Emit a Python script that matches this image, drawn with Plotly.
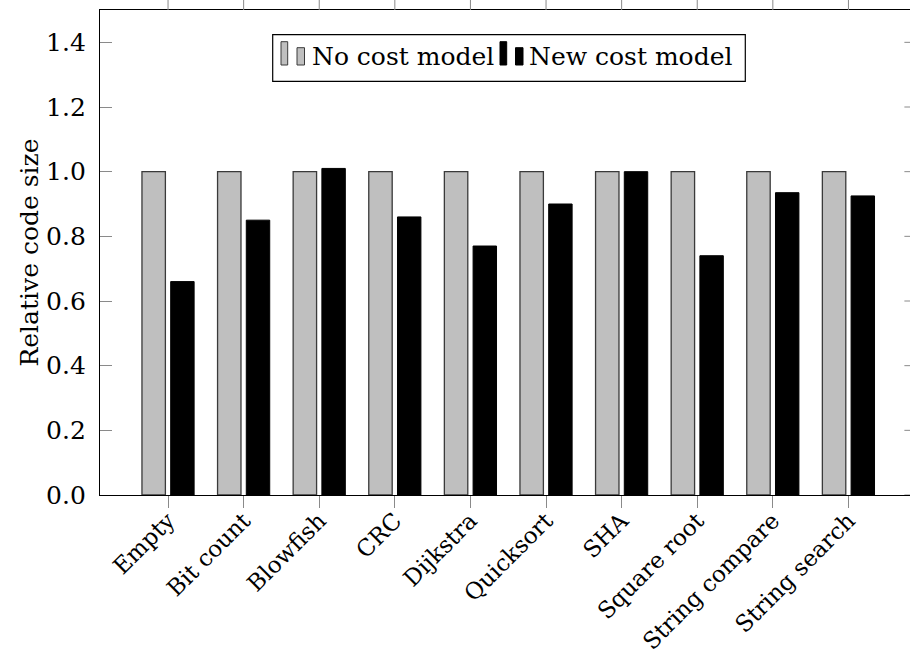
import plotly.graph_objects as go

# Benchmarks and relative code sizes
categories = ["Empty", "Bit count", "Blowfish", "CRC", "Dijkstra", "Quicksort",
              "SHA", "Square root", "String compare", "String search"]
no_cost_model = [1.0, 1.0, 1.0, 1.0, 1.0, 1.0, 1.0, 1.0, 1.0, 1.0]
new_cost_model = [0.66, 0.85, 1.01, 0.86, 0.77, 0.90, 1.00, 0.74, 0.935, 0.925]
y_ticks = [0.0, 0.2, 0.4, 0.6, 0.8, 1.0, 1.2, 1.4]
series_names = ["No cost model", "New cost model"]

FONT = "'DejaVu Serif', serif"
FS = 25
W, H = 910, 659
ML, MR, MT, MB = 100, 0, 10, 164
PW, PH = W - ML - MR, H - MT - MB

GRAY = "#bfbfbf"
EDGE = "#3a3a3a"
TICK = "#8a8a8a"

xs = list(range(len(categories)))

fig = go.Figure()
fig.add_trace(go.Bar(
    x=xs, y=no_cost_model, name=series_names[0],
    width=0.31, offset=-0.345,
    marker=dict(color=GRAY, line=dict(color=EDGE, width=1.3)),
    showlegend=False,
))
fig.add_trace(go.Bar(
    x=xs, y=new_cost_model, name=series_names[1],
    width=0.31, offset=0.035,
    marker=dict(color="#000000", line=dict(color="#000000", width=1.0)),
    showlegend=False,
))


def px_x(p):
    return (p - ML) / PW


def px_y(p):
    return (H - MB - p) / PH


shapes = []
# x ticks on top edge, pointing outward
for i in xs:
    shapes.append(dict(type="line", xref="x", yref="paper", x0=i, x1=i,
                       y0=1, y1=1 + 12 / PH, line=dict(color=TICK, width=1)))
# y ticks on the right edge, pointing inward
for v in y_ticks:
    shapes.append(dict(type="line", xref="x", yref="y", x0=9.74, x1=9.9,
                       y0=v, y1=v, line=dict(color=TICK, width=1)))

# legend box with ybar-style icons
shapes.append(dict(type="rect", xref="paper", yref="paper",
                   x0=px_x(272.7), x1=px_x(745.3), y0=px_y(81.3), y1=px_y(34.7),
                   line=dict(color="#000000", width=1.2), fillcolor="white"))
icon_sets = [
    (GRAY, EDGE, [(281.0, 287.7, 41.7), (297.0, 304.5, 47.7)]),
    ("#000000", "#000000", [(500.0, 506.7, 41.7), (515.5, 523.0, 47.7)]),
]
for fill, edge, rects in icon_sets:
    for x0, x1, top in rects:
        shapes.append(dict(type="rect", xref="paper", yref="paper",
                           x0=px_x(x0), x1=px_x(x1), y0=px_y(65.0), y1=px_y(top),
                           line=dict(color=edge, width=1), fillcolor=fill))

annotations = [
    dict(text=series_names[0], xref="paper", yref="paper", x=px_x(310), y=px_y(57),
         xanchor="left", yanchor="middle", showarrow=False,
         font=dict(family=FONT, size=FS, color="#000000")),
    dict(text=series_names[1], xref="paper", yref="paper", x=px_x(527), y=px_y(57),
         xanchor="left", yanchor="middle", showarrow=False,
         font=dict(family=FONT, size=FS, color="#000000")),
]

fig.update_layout(
    width=W, height=H,
    margin=dict(l=ML, r=MR, t=MT, b=MB, pad=0),
    paper_bgcolor="white", plot_bgcolor="white",
    barmode="overlay",
    font=dict(family=FONT, size=FS, color="#000000"),
    shapes=shapes,
    annotations=annotations,
    showlegend=False,
)
fig.update_xaxes(
    type="linear",
    range=[-0.9, -0.9 + PW / 75.6],
    tickmode="array", tickvals=xs, ticktext=categories,
    tickangle=-45,
    ticks="outside", ticklen=12, tickcolor=TICK, tickwidth=1,
    showline=True, linecolor="#000000", linewidth=1.3, mirror=True,
    showgrid=False, zeroline=False, automargin=False,
    ticklabelstandoff=-10,
    tickfont=dict(family=FONT, size=23, color="#000000"),
)
fig.update_yaxes(
    range=[0, 1.5],
    tickmode="array", tickvals=y_ticks, tickformat=".1f",
    ticks="inside", ticklen=12, tickcolor=TICK, tickwidth=1,
    showline=True, linecolor="#000000", linewidth=1.3,
    showgrid=False, zeroline=False, automargin=False,
    ticklabelstandoff=8,
    title=dict(text="Relative code size", standoff=0,
               font=dict(family=FONT, size=FS, color="#000000")),
    tickfont=dict(family=FONT, size=FS, color="#000000"),
)

fig.write_html("out.html")
